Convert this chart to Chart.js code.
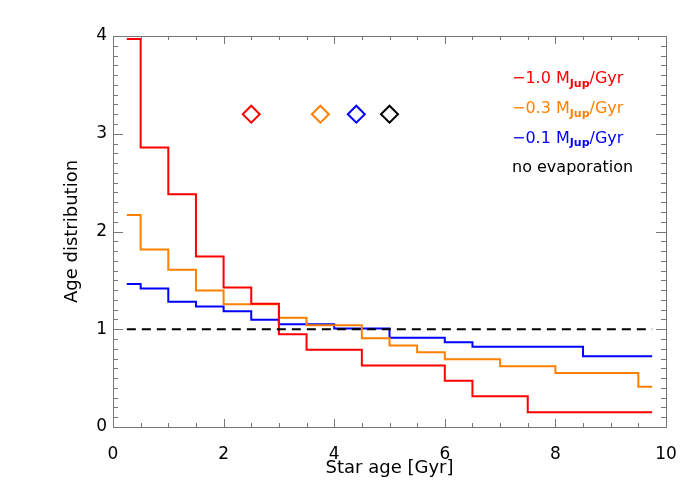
<!DOCTYPE html>
<html>
<head>
<meta charset="utf-8">
<script src="https://cdn.jsdelivr.net/npm/chart.js@4.4.0/dist/chart.umd.min.js"></script>
<style>
  html, body { margin: 0; background: #fff; }
</style>
</head>
<body>
<canvas id="chart" width="700" height="500"></canvas>
<script>
// bin edges (Gyr) and heights of each step histogram
const redEdges = [0.25, 0.5, 1.0, 1.5, 2.0, 2.5, 3.0, 3.5, 4.5, 6.0, 6.5, 7.5, 9.75];
const redValues = [3.97, 2.86, 2.38, 1.745, 1.427, 1.26, 0.95, 0.79, 0.63, 0.474, 0.314, 0.15];

const orangeEdges = [0.25, 0.5, 1.0, 1.5, 2.0, 3.0, 3.5, 4.5, 5.0, 5.5, 6.0, 7.0, 8.0, 9.5, 9.75];
const orangeValues = [2.17, 1.817, 1.609, 1.397, 1.257, 1.117, 1.042, 0.907, 0.835, 0.765, 0.694, 0.622, 0.553, 0.413];

const blueEdges = [0.25, 0.5, 1.0, 1.5, 2.0, 2.5, 3.0, 4.0, 5.0, 6.0, 6.5, 8.5, 9.75];
const blueValues = [1.462, 1.417, 1.281, 1.233, 1.185, 1.096, 1.052, 1.008, 0.913, 0.868, 0.82, 0.724];

// flat reference (no evaporation)
const flatX = [0.25, 9.75];
const flatY = [1, 1];

// mean ages (diamonds)
const meanAges = [2.5, 3.75, 4.4, 5.0];
const meanLevel = [3.2, 3.2, 3.2, 3.2];
const meanColors = ['#ff0000', '#ff8000', '#0000ff', '#000000'];

const legendLabels = [
    { pre: '\u22121.0 M', sub: 'Jup', post: '/Gyr', color: '#ff0000' },
    { pre: '\u22120.3 M', sub: 'Jup', post: '/Gyr', color: '#ff8000' },
    { pre: '\u22120.1 M', sub: 'Jup', post: '/Gyr', color: '#0000ff' },
    { pre: 'no evaporation', sub: '', post: '', color: '#000000' }
];

const xTicks = [0, 2, 4, 6, 8, 10];
const yTicks = [0, 1, 2, 3, 4];

const FONT = 'DejaVu Sans';

// histogram -> points; last value repeated at the closing edge
var steps = (edges, vals) => edges.map((x, i) => ({ x: x, y: vals[Math.min(i, vals.length - 1)] }));

// IDL-style box with inward ticks on all four sides + legend text
const framePlugin = {
    id: 'frame',
    afterDraw(chart) {
        const ctx = chart.ctx;
        const a = chart.chartArea;
        const xs = chart.scales.x, ys = chart.scales.y;
        ctx.save();
        ctx.strokeStyle = '#777';
        ctx.lineWidth = 1;
        ctx.strokeRect(a.left + 0.5, a.top + 0.5, a.right - a.left, a.bottom - a.top);
        ctx.beginPath();
        // x ticks every 0.5, major every 2
        for (let v = 0; v <= 10.001; v += 0.5) {
            const px = Math.round(xs.getPixelForValue(v)) + 0.5;
            const len = (Math.abs(v / 2 - Math.round(v / 2)) < 1e-6) ? 8 : 4;
            ctx.moveTo(px, a.bottom); ctx.lineTo(px, a.bottom - len);
            ctx.moveTo(px, a.top); ctx.lineTo(px, a.top + len);
        }
        // y ticks every 0.1, major every 1
        for (let i = 0; i <= 40; i++) {
            const v = i / 10;
            const py = Math.round(ys.getPixelForValue(v)) + 0.5;
            const len = (i % 10 === 0) ? 10 : 5;
            ctx.moveTo(a.left, py); ctx.lineTo(a.left + len, py);
            ctx.moveTo(a.right, py); ctx.lineTo(a.right - len, py);
        }
        ctx.stroke();

        // legend
        ctx.textBaseline = 'middle';
        ctx.textAlign = 'left';
        const lx = a.left + 399;
        legendLabels.forEach((l, i) => {
            const ly = a.top + 43 + i * 29.7;
            ctx.fillStyle = l.color;
            ctx.font = '16px "' + FONT + '"';
            ctx.fillText(l.pre, lx, ly);
            let x = lx + ctx.measureText(l.pre).width;
            if (l.sub) {
                ctx.font = 'bold 11px "' + FONT + '"';
                ctx.fillText(l.sub, x, ly + 5);
                x += ctx.measureText(l.sub).width;
                ctx.font = '16px "' + FONT + '"';
                ctx.fillText(l.post, x, ly);
            }
        });
        ctx.restore();
    }
};

const lineStyle = { borderWidth: 2, pointRadius: 0, fill: false, stepped: 'before', showLine: true };

new Chart(document.getElementById('chart'), {
    type: 'scatter',
    data: {
        datasets: [
            Object.assign({ data: flatX.map((x, i) => ({ x: x, y: flatY[i] })), borderColor: '#000', borderDash: [9, 6], order: 0 }, lineStyle, { stepped: false }),
            Object.assign({ data: steps(redEdges, redValues), borderColor: '#ff0000', order: 1 }, lineStyle),
            Object.assign({ data: steps(orangeEdges, orangeValues), borderColor: '#ff8000', order: 2 }, lineStyle),
            Object.assign({ data: steps(blueEdges, blueValues), borderColor: '#0000ff', order: 3 }, lineStyle),
            {
                data: meanAges.map((x, i) => ({ x: x, y: meanLevel[i] })),
                showLine: false,
                pointStyle: 'rectRot',
                pointRadius: 8.5,
                pointBorderWidth: 2,
                pointBackgroundColor: 'rgba(0,0,0,0)',
                pointBorderColor: meanColors,
                order: 0
            }
        ]
    },
    options: {
        responsive: false,
        animation: false,
        devicePixelRatio: 1,
        layout: { padding: { top: 36, right: 34, left: 0, bottom: 0 } },
        plugins: { legend: { display: false }, tooltip: { enabled: false } },
        scales: {
            x: {
                type: 'linear', min: 0, max: 10,
                afterBuildTicks: s => { s.ticks = xTicks.map(v => ({ value: v })); },
                afterFit: s => { s.height = 73; },
                ticks: { color: '#000', font: { family: FONT, size: 17 }, padding: 17 },
                grid: { display: false, drawTicks: false },
                border: { display: false },
                title: { display: true, text: 'Star age [Gyr]', color: '#000', font: { family: FONT, size: 18 }, padding: { top: 0, bottom: 21 } }
            },
            y: {
                type: 'linear', min: 0, max: 4,
                afterBuildTicks: s => { s.ticks = yTicks.map(v => ({ value: v })); },
                afterFit: s => { s.width = 113; },
                ticks: { color: '#000', font: { family: FONT, size: 17 }, padding: 6 },
                grid: { display: false, drawTicks: false },
                border: { display: false },
                title: { display: true, text: 'Age distribution', color: '#000', font: { family: FONT, size: 18 }, padding: { top: 62, bottom: 0 } }
            }
        }
    },
    plugins: [framePlugin]
});
</script>
</body>
</html>
